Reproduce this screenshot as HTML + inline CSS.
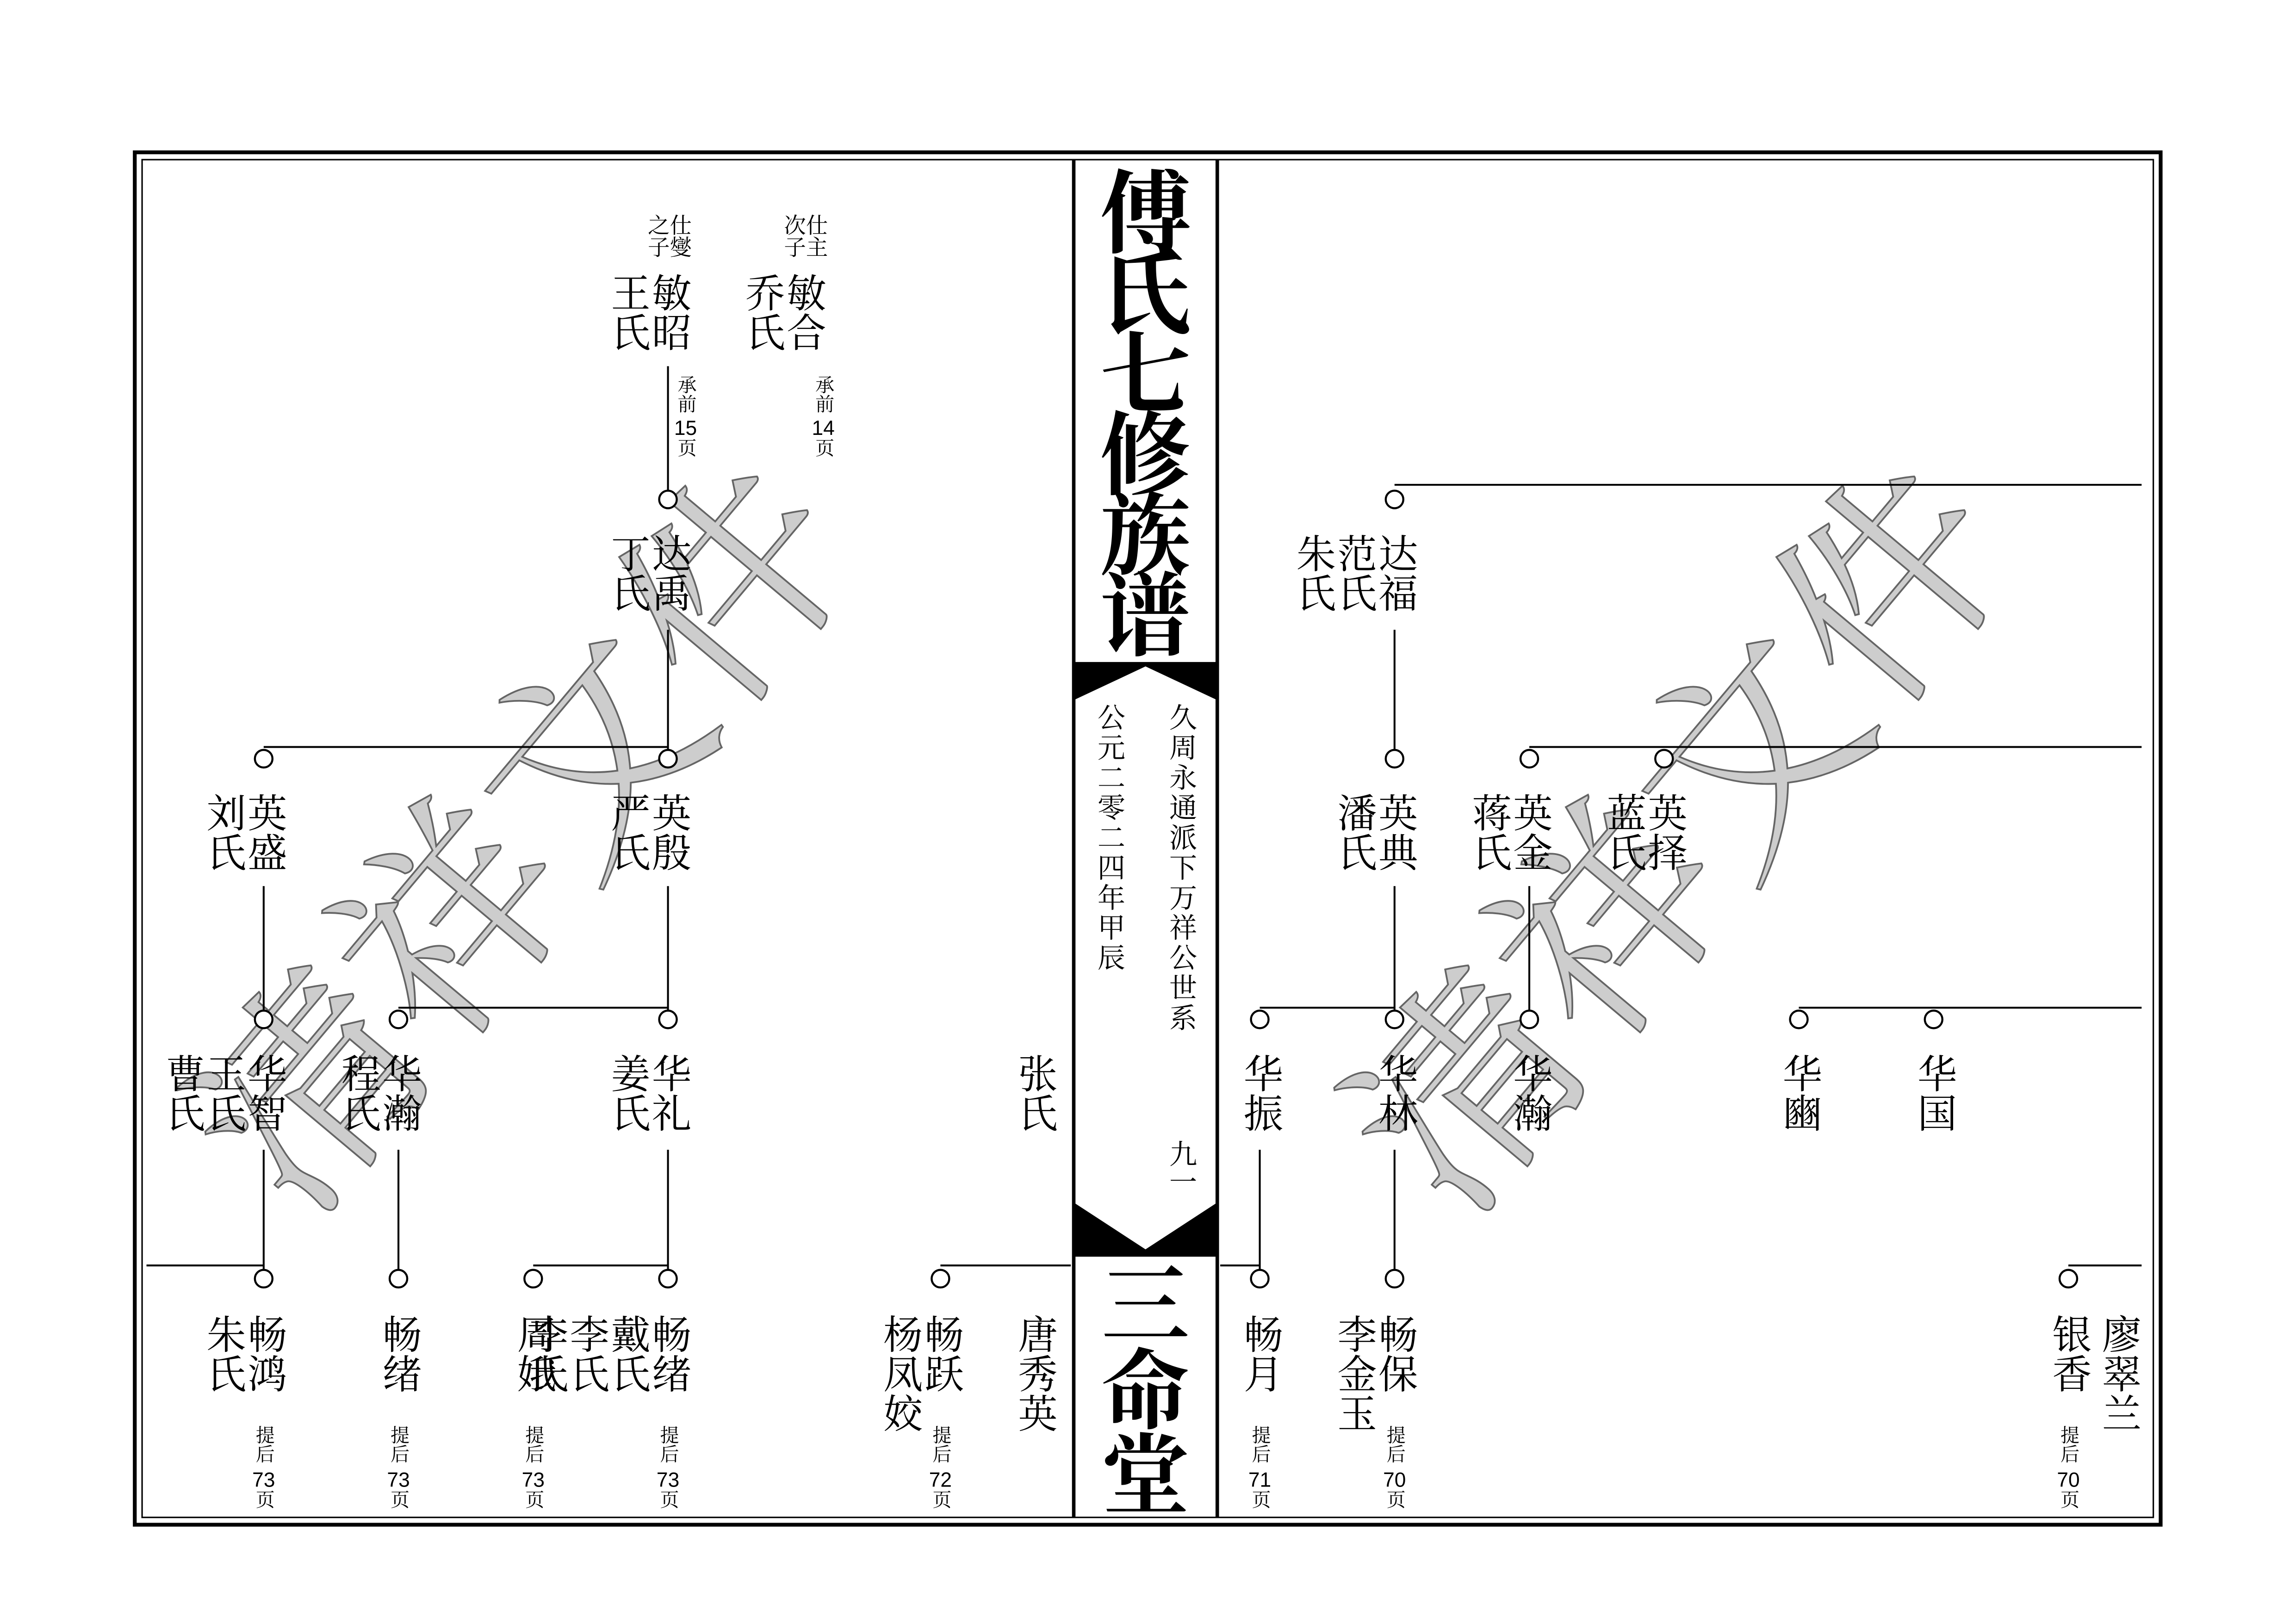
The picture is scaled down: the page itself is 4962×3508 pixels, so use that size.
<!DOCTYPE html>
<html><head><meta charset="utf-8">
<style>
html,body{margin:0;padding:0;background:#fff}
svg{display:block}
text{font-family:"Liberation Serif","Noto Serif CJK SC",serif;fill:#000}
.v{writing-mode:vertical-rl;text-anchor:start}
.n{font-size:27px}
.s{font-size:15px}
.p{font-size:13px}
.d{font-size:14px;font-family:"Liberation Sans",sans-serif}
.m{font-size:19px}
line,polyline{stroke:#000;stroke-width:1.3;fill:none}
circle{fill:#fff;stroke:#000;stroke-width:1.4}
.wm{font-size:150px;fill:#c8c8c8;stroke:#555;stroke-width:1.2;font-family:"Noto Serif CJK SC",serif;opacity:.9}
</style></head><body>
<svg width="4962" height="3508" viewBox="0 0 1567.4 1108.1" preserveAspectRatio="none" xmlns="http://www.w3.org/2000/svg">
<rect width="1568" height="1109" fill="#fff"/>
<rect x="92" y="104" width="1383" height="937" fill="none" stroke="#000" stroke-width="2.6"/>
<rect x="97" y="109" width="1373" height="927" fill="none" stroke="#000" stroke-width="1"/>
<line x1="733" y1="109" x2="733" y2="1036" style="stroke-width:2.4"/>
<line x1="831" y1="109" x2="831" y2="1036" style="stroke-width:2.4"/>
<polygon points="733,452 831,452 831,478 782,455 733,478" fill="#000"/>
<polygon points="733,821 782,853 831,821 831,858 733,858" fill="#000"/>
<text class="v" x="782" y="113" style="font-size:62px;font-weight:bold;font-family:'Noto Serif CJK SC',serif;letter-spacing:-7px">傅氏七修族谱</text>
<text class="v" x="782" y="860" style="font-size:60px;font-weight:bold;font-family:'Noto Serif CJK SC',serif;letter-spacing:-2px">三命堂</text>
<text class="v m" x="806" y="480" style="letter-spacing:1.5px">久周永通派下万祥公世系</text>
<text class="v m" x="806" y="778">九一</text>
<text class="v m" x="757" y="480" style="letter-spacing:1.5px">公元二零二四年甲辰</text>

<text class="wm" transform="translate(205,835) rotate(-50)">清祥文件</text>
<text class="wm" transform="translate(995,835) rotate(-50)">清祥文件</text>

<line x1="456" y1="250" x2="456" y2="335"/>
<line x1="456" y1="430" x2="456" y2="512"/>
<line x1="180" y1="510" x2="456" y2="510"/>
<line x1="180" y1="605" x2="180" y2="690"/>
<line x1="456" y1="605" x2="456" y2="690"/>
<line x1="272" y1="688" x2="456" y2="688"/>
<line x1="180" y1="785" x2="180" y2="867"/>
<line x1="272" y1="785" x2="272" y2="867"/>
<line x1="456" y1="785" x2="456" y2="867"/>
<line x1="100" y1="864" x2="180" y2="864"/>
<line x1="364" y1="864" x2="456" y2="864"/>
<line x1="642" y1="864" x2="731" y2="864"/>
<circle cx="456" cy="341" r="6"/>
<circle cx="180" cy="518" r="6"/><circle cx="456" cy="518" r="6"/>
<circle cx="180" cy="696" r="6"/><circle cx="272" cy="696" r="6"/><circle cx="456" cy="696" r="6"/>
<circle cx="180" cy="873" r="6"/><circle cx="272" cy="873" r="6"/><circle cx="364" cy="873" r="6"/><circle cx="456" cy="873" r="6"/>
<circle cx="642" cy="873" r="6"/>

<text class="v s" x="463" y="146">仕燮</text>
<text class="v s" x="448" y="146">之子</text>
<text class="v n" x="456" y="186">敏昭</text>
<text class="v n" x="428" y="186">王氏</text>
<text class="v s" x="556" y="146">仕主</text>
<text class="v s" x="541" y="146">次子</text>
<text class="v n" x="548" y="186">敏合</text>
<text class="v n" x="520" y="186">乔氏</text>
<text class="v p" x="468" y="256">承前</text><text class="d" x="468" y="297" text-anchor="middle">15</text><text class="v p" x="468" y="299">页</text>
<text class="v p" x="562" y="256">承前</text><text class="d" x="562" y="297" text-anchor="middle">14</text><text class="v p" x="562" y="299">页</text>
<text class="v n" x="456" y="364">达禹</text>
<text class="v n" x="428" y="364">丁氏</text>
<text class="v n" x="180" y="541">英盛</text>
<text class="v n" x="152" y="541">刘氏</text>
<text class="v n" x="456" y="541">英殷</text>
<text class="v n" x="428" y="541">严氏</text>
<text class="v n" x="180" y="719">华智</text>
<text class="v n" x="152" y="719">王氏</text>
<text class="v n" x="124" y="719">曹氏</text>
<text class="v n" x="272" y="719">华瀚</text>
<text class="v n" x="244" y="719">程氏</text>
<text class="v n" x="456" y="719">华礼</text>
<text class="v n" x="428" y="719">姜氏</text>
<text class="v n" x="180" y="897">畅鸿</text>
<text class="v n" x="152" y="897">朱氏</text>
<text class="v n" x="272" y="897">畅绪</text>
<text class="v n" x="456" y="897">畅绪</text>
<text class="v n" x="428" y="897">戴氏</text>
<text class="v n" x="400" y="897">李氏</text>
<text class="v n" x="372" y="897">李氏</text>
<text class="v n" x="364" y="897">周娥</text>
<text class="v n" x="706" y="719">张氏</text>
<text class="v n" x="642" y="897">畅跃</text>
<text class="v n" x="614" y="897">杨凤姣</text>
<text class="v n" x="706" y="897">唐秀英</text>
<text class="v p" x="180" y="973">提后</text><text class="d" x="180" y="1015" text-anchor="middle">73</text><text class="v p" x="180" y="1017">页</text>
<text class="v p" x="272" y="973">提后</text><text class="d" x="272" y="1015" text-anchor="middle">73</text><text class="v p" x="272" y="1017">页</text>
<text class="v p" x="364" y="973">提后</text><text class="d" x="364" y="1015" text-anchor="middle">73</text><text class="v p" x="364" y="1017">页</text>
<text class="v p" x="456" y="973">提后</text><text class="d" x="456" y="1015" text-anchor="middle">73</text><text class="v p" x="456" y="1017">页</text>
<text class="v p" x="642" y="973">提后</text><text class="d" x="642" y="1015" text-anchor="middle">72</text><text class="v p" x="642" y="1017">页</text>
<text class="v p" x="860" y="973">提后</text><text class="d" x="860" y="1015" text-anchor="middle">71</text><text class="v p" x="860" y="1017">页</text>
<text class="v p" x="952" y="973">提后</text><text class="d" x="952" y="1015" text-anchor="middle">70</text><text class="v p" x="952" y="1017">页</text>
<text class="v p" x="1412" y="973">提后</text><text class="d" x="1412" y="1015" text-anchor="middle">70</text><text class="v p" x="1412" y="1017">页</text>

<line x1="952" y1="331" x2="1462" y2="331"/>
<line x1="952" y1="430" x2="952" y2="512"/>
<line x1="1044" y1="510" x2="1462" y2="510"/>
<line x1="952" y1="605" x2="952" y2="690"/>
<line x1="860" y1="688" x2="952" y2="688"/>
<line x1="1044" y1="605" x2="1044" y2="690"/>
<line x1="1228" y1="688" x2="1462" y2="688"/>
<line x1="860" y1="785" x2="860" y2="867"/>
<line x1="952" y1="785" x2="952" y2="867"/>
<line x1="833" y1="864" x2="860" y2="864"/>
<line x1="1412" y1="864" x2="1462" y2="864"/>
<circle cx="952" cy="341" r="6"/>
<circle cx="952" cy="518" r="6"/><circle cx="1044" cy="518" r="6"/><circle cx="1136" cy="518" r="6"/>
<circle cx="860" cy="696" r="6"/><circle cx="952" cy="696" r="6"/><circle cx="1044" cy="696" r="6"/><circle cx="1228" cy="696" r="6"/><circle cx="1320" cy="696" r="6"/>
<circle cx="860" cy="873" r="6"/><circle cx="952" cy="873" r="6"/><circle cx="1412" cy="873" r="6"/>
<text class="v n" x="952" y="364">达福</text>
<text class="v n" x="924" y="364">范氏</text>
<text class="v n" x="896" y="364">朱氏</text>
<text class="v n" x="952" y="541">英典</text>
<text class="v n" x="924" y="541">潘氏</text>
<text class="v n" x="1044" y="541">英金</text>
<text class="v n" x="1016" y="541">蒋氏</text>
<text class="v n" x="1136" y="541">英择</text>
<text class="v n" x="1108" y="541">蓝氏</text>
<text class="v n" x="860" y="719">华振</text>
<text class="v n" x="952" y="719">华林</text>
<text class="v n" x="1044" y="719">华瀚</text>
<text class="v n" x="1228" y="719">华豳</text>
<text class="v n" x="1320" y="719">华国</text>
<text class="v n" x="860" y="897">畅月</text>
<text class="v n" x="952" y="897">畅保</text>
<text class="v n" x="924" y="897">李金玉</text>
<text class="v n" x="1446" y="897">廖翠兰</text>
<text class="v n" x="1412" y="897">银香</text>
</svg>
</body></html>
